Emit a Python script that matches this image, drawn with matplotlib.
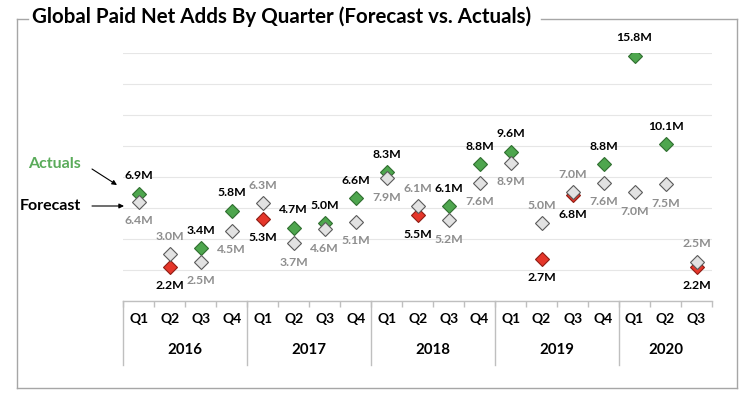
import numpy as np
import matplotlib
matplotlib.use('Agg')
import matplotlib.pyplot as plt
from matplotlib.lines import Line2D

plt.rcParams['font.family'] = ['Lato', 'DejaVu Sans']

quarters = ['Q1', 'Q2', 'Q3', 'Q4'] * 4 + ['Q1', 'Q2', 'Q3']
years = ['2016', '2017', '2018', '2019', '2020']
year_lengths = [4, 4, 4, 4, 3]
forecast = [6.4, 3.0, 2.5, 4.5, 6.3, 3.7, 4.6, 5.1, 7.9, 6.1, 5.2, 7.6,
            8.9, 5.0, 7.0, 7.6, 7.0, 7.5, 2.5]
actuals = [6.9, 2.2, 3.4, 5.8, 5.3, 4.7, 5.0, 6.6, 8.3, 5.5, 6.1, 8.8,
           9.6, 2.7, 6.8, 8.8, 15.8, 10.1, 2.2]

W, H = 746, 399
fig = plt.figure(figsize=(W / 100, H / 100), dpi=100)

def fx(px):
    return px / W

def fy(py):
    return 1 - py / H

# axes placed in pixel terms
x0, x1, y0, y1 = 123.3, 712.0, 52.7, 300.7
ax = fig.add_axes([fx(x0), fy(y1), fx(x1) - fx(x0), fy(y0) - fy(y1)])
ax.set_xlim(-0.5, len(quarters) - 0.5)
ax.set_ylim(0, 16)

green = '#4ea64e'
green_edge = '#2f6e2f'
red = '#e5362a'
red_edge = '#8e1d14'
grey_fill = '#e2e2e2'
grey_edge = '#5a5a5a'
grey_text = '#8e8e8e'

x = np.arange(len(quarters))
for i in x:
    a, f = actuals[i], forecast[i]
    beat = a >= f
    ax.plot(i, a, 'D', ms=7.6, mfc=green if beat else red,
            mec=green_edge if beat else red_edge, mew=0.8, zorder=3)
    ax.plot(i, f, 'D', ms=7.6, mfc=grey_fill, mec=grey_edge, mew=0.8, zorder=4)
    a_off = 18 if beat else -19
    f_off = -19 if beat else 18
    ax.annotate(f'{a:.1f}M', (i, a), xytext=(0, a_off), textcoords='offset pixels',
                ha='center', va='center', fontsize=8.8, fontweight='bold', color='black')
    ax.annotate(f'{f:.1f}M', (i, f), xytext=(0, f_off), textcoords='offset pixels',
                ha='center', va='center', fontsize=8.8, fontweight='bold', color=grey_text)

# grid and axis
ax.set_yticks(np.arange(0, 17, 2))
ax.yaxis.grid(True, color='#e6e6e6', lw=0.8)
ax.set_axisbelow(True)
ax.tick_params(axis='y', length=0, labelleft=False)
for side in ['left', 'right', 'top']:
    ax.spines[side].set_visible(False)
ax.spines['bottom'].set_color('#bfbfbf')
ax.spines['bottom'].set_linewidth(1)
ax.set_xticks([])
ax.set_xticks(np.arange(-0.5, len(quarters), 1), minor=True)
ax.tick_params(axis='x', which='minor', length=4, color='#bfbfbf', width=1)

axh = y1 - y0
trans = ax.get_xaxis_transform()
for i, q in enumerate(quarters):
    ax.text(i, -18.5 / axh, q, transform=trans, ha='center', va='center',
            fontsize=10, fontweight='bold')

start = 0
for yr, n in zip(years, year_lengths):
    ax.plot([start - 0.5, start - 0.5], [0, -64.5 / axh], transform=trans,
            color='#bfbfbf', lw=1, clip_on=False)
    ax.text(start + (n - 1) / 2, -49.5 / axh, yr, transform=trans, ha='center',
            va='center', fontsize=10.8, fontweight='bold')
    start += n

# legend-like callouts
fig.text(fx(28), fy(164), 'Actuals', color='#5aab5a', fontsize=11.5,
         fontweight='bold', ha='left', va='center')
fig.text(fx(20), fy(206), 'Forecast', color='black', fontsize=11.5,
         fontweight='bold', ha='left', va='center')
arrow = dict(arrowstyle='-|>', color='black', lw=0.8, mutation_scale=7,
             shrinkA=0, shrinkB=0)
ax.annotate('', xy=(fx(117), fy(185)), xytext=(fx(92), fy(169)),
            xycoords='figure fraction', textcoords='figure fraction', arrowprops=arrow)
ax.annotate('', xy=(fx(124), fy(206)), xytext=(fx(92), fy(206)),
            xycoords='figure fraction', textcoords='figure fraction', arrowprops=arrow)

# title and outer frame
title = fig.text(fx(32), fy(17), 'Global Paid Net Adds By Quarter (Forecast vs. Actuals)',
                 fontsize=14.8, fontweight='bold', ha='left', va='center')
fig.canvas.draw()
bb = title.get_window_extent()
t_right = bb.x1 / W + fx(10)

frame = '#a6a6a6'
L, R, T, B = fx(16.7), fx(736.7), fy(18.5), fy(388)
for xs, ys in [([L, L], [T, B]), ([L, R], [B, B]), ([R, R], [B, T]),
               ([L, fx(28)], [T, T]), ([t_right, R], [T, T])]:
    fig.add_artist(Line2D(xs, ys, color=frame, lw=1, transform=fig.transFigure))

fig.savefig('out.png', dpi=100)
